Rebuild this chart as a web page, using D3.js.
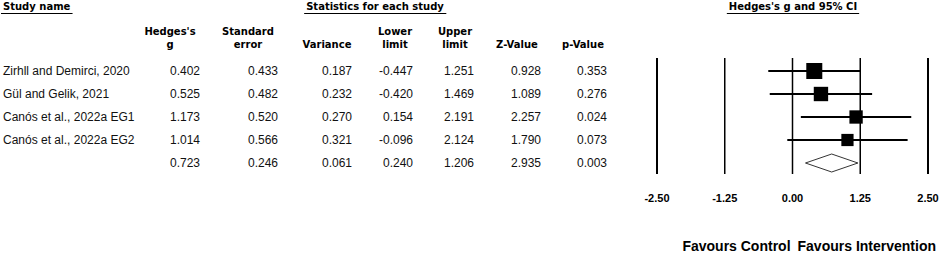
<!DOCTYPE html>
<html>
<head>
<meta charset="utf-8">
<script src="https://cdn.jsdelivr.net/npm/d3@7"></script>
<style>
  body { margin: 0; background: #fff; }
  svg { display: block; }
  .hdr { font-family: 'DejaVu Sans', sans-serif; font-weight: bold; font-size: 10px; fill: #000; }
  .cell { font-family: 'Liberation Sans', Arial, sans-serif; font-size: 12px; fill: #111; }
  .tick { font-family: 'Liberation Sans', Arial, sans-serif; font-weight: bold; font-size: 11px; fill: #000; }
  .fav { font-family: 'Liberation Sans', Arial, sans-serif; font-weight: bold; font-size: 14px; fill: #000; }
</style>
</head>
<body>
<div id="graph"></div>
<script>
// Data
const studies = ['Zirhll and Demirci, 2020', 'Gül and Gelik, 2021', 'Canós et al., 2022a EG1', 'Canós et al., 2022a EG2', '']
const hedgesG = [0.402, 0.525, 1.173, 1.014, 0.723]
const stdErr = [0.433, 0.482, 0.520, 0.566, 0.246]
const variance = [0.187, 0.232, 0.270, 0.321, 0.061]
const lower = [-0.447, -0.420, 0.154, -0.096, 0.240]
const upper = [1.251, 1.469, 2.191, 2.124, 1.206]
const zValue = [0.928, 1.089, 2.257, 1.790, 2.935]
const pValue = [0.353, 0.276, 0.024, 0.073, 0.003]
const tickValues = [-2.5, -1.25, 0, 1.25, 2.5]

const W = 941, H = 260

const svg = d3.select('#graph').append('svg')
  .attr('width', W)
  .attr('height', H)

// row positions
const y = d3.scalePoint().domain(d3.range(studies.length)).range([71, 163])
// effect scale for the plot
const x = d3.scaleLinear().domain([-2.5, 2.5]).range([657, 928])

// --- headers
function underlined(txt, cx, anchor, yy) {
  const t = svg.append('text').attr('class', 'hdr')
    .attr('x', cx).attr('y', yy).attr('text-anchor', anchor).text(txt)
  const bb = t.node().getBBox()
  svg.append('line')
    .attr('x1', bb.x - 2).attr('x2', bb.x + bb.width + 2)
    .attr('y1', yy + 3.5).attr('y2', yy + 3.5)
    .attr('stroke', '#000').attr('stroke-width', 1)
}
underlined('Study name', 3, 'start', 10)
underlined('Statistics for each study', 375, 'middle', 10)
underlined("Hedges's g and 95% CI", 793, 'middle', 10)

// column headers, positions are the centres of the columns
const cols = [
  { lines: ["Hedges's", 'g'], cx: 170, right: 200, vals: hedgesG },
  { lines: ['Standard', 'error'], cx: 248, right: 278, vals: stdErr },
  { lines: ['Variance'], cx: 327, right: 352, vals: variance },
  { lines: ['Lower', 'limit'], cx: 395, right: 413, vals: lower },
  { lines: ['Upper', 'limit'], cx: 455, right: 474, vals: upper },
  { lines: ['Z-Value'], cx: 517, right: 541, vals: zValue },
  { lines: ['p-Value'], cx: 583, right: 607, vals: pValue }
]

cols.forEach(c => {
  c.lines.forEach((l, i) => {
    const yy = c.lines.length === 2 ? 35 + i * 13 : 48
    svg.append('text').attr('class', 'hdr')
      .attr('x', c.cx).attr('y', yy).attr('text-anchor', 'middle').text(l)
  })
  svg.selectAll(null).data(c.vals).enter().append('text')
    .attr('class', 'cell')
    .attr('x', c.right)
    .attr('y', (d, i) => y(i) + 4)
    .attr('text-anchor', 'end')
    .text(d => d.toFixed(3))
})

svg.selectAll('.name').data(studies).enter().append('text')
  .attr('class', 'cell name')
  .attr('x', 3)
  .attr('y', (d, i) => y(i) + 4)
  .text(d => d)

// --- forest plot
const plot = svg.append('g')

plot.selectAll('.grid').data(tickValues).enter().append('line')
  .attr('x1', d => x(d)).attr('x2', d => x(d))
  .attr('y1', 58).attr('y2', 174)
  .attr('stroke', '#000')
  .attr('stroke-width', d => (d === 0 || Math.abs(d) === 1.25) ? 1.5 : 2)

const nStudy = studies.length - 1
const weights = variance.slice(0, nStudy).map(v => 1 / v)
const size = d3.scaleSqrt().domain([0, d3.max(weights)]).range([0, 16])

const rows = d3.range(nStudy)
plot.selectAll('.ci').data(rows).enter().append('line')
  .attr('x1', i => x(lower[i])).attr('x2', i => x(upper[i]))
  .attr('y1', i => y(i)).attr('y2', i => y(i))
  .attr('stroke', '#000').attr('stroke-width', 2)

plot.selectAll('.box').data(rows).enter().append('rect')
  .attr('x', i => x(hedgesG[i]) - size(weights[i]) / 2)
  .attr('y', i => y(i) - size(weights[i]) / 2)
  .attr('width', i => size(weights[i]))
  .attr('height', i => size(weights[i]))
  .attr('fill', '#000')

// summary diamond
const s = nStudy
const yc = y(s)
plot.append('path')
  .attr('d', `M${x(lower[s])},${yc} L${x(hedgesG[s])},${yc - 9} L${x(upper[s])},${yc} L${x(hedgesG[s])},${yc + 9} Z`)
  .attr('fill', '#fff').attr('stroke', '#000').attr('stroke-width', 0.8)

// tick labels
plot.selectAll('.tl').data(tickValues).enter().append('text')
  .attr('class', 'tick')
  .attr('x', d => x(d))
  .attr('y', 202)
  .attr('text-anchor', 'middle')
  .text(d => d.toFixed(2))

// favours labels: right one ends near the right edge
const favR = svg.append('text').attr('class', 'fav')
  .attr('x', 936).attr('y', 251).attr('text-anchor', 'end')
  .text('Favours Intervention')
const rStart = favR.node().getBBox().x
svg.append('text').attr('class', 'fav')
  .attr('x', rStart - 7).attr('y', 251).attr('text-anchor', 'end')
  .text('Favours Control')
</script>
</body>
</html>
